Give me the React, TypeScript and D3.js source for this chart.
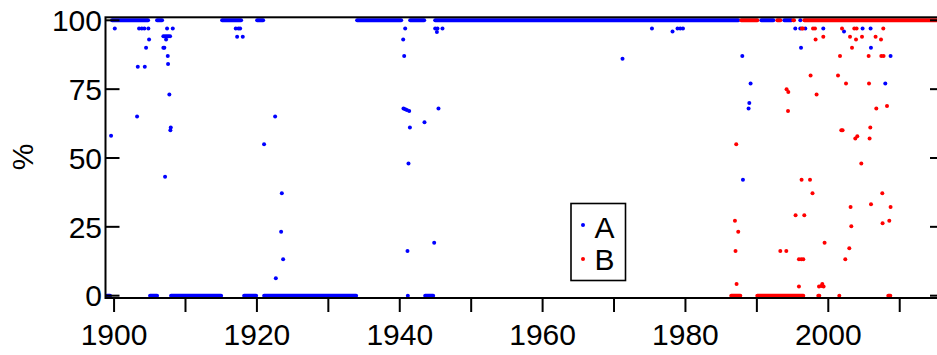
import React, { useRef, useEffect } from 'react';
import * as d3 from 'd3';

// tick values
const yTicks = [0, 25, 50, 75, 100];
const xTicks = [1900, 1910, 1920, 1930, 1940, 1950, 1960, 1970, 1980, 1990, 2000, 2010];
const xLabels = [1900, 1920, 1940, 1960, 1980, 2000];

// dense runs of points sitting on 100 or 0 (year from, year to)
const aRuns100 = [[1899.72, 1904.76], [1906.02, 1906.72], [1915.13, 1917.79], [1920.03, 1920.87],
  [1934.03, 1940.2], [1941.46, 1943.42], [1944.96, 1987.39], [1990.62, 1992.3], [1993.84, 1994.82], [1996.08, 1996.08]];
const aRuns0 = [[1899.02, 1899.44], [1905.04, 1906.02], [1907.98, 1914.99], [1918.21, 1919.89],
  [1921.01, 1933.89], [1941.13, 1941.13], [1943.56, 1944.68]];
const bRuns100 = [[1987.82, 1990.06], [1992.86, 1993.28], [1995.1, 1995.2], [1996.64, 2016.2]];
const bRuns0 = [[1986.41, 1987.68], [1990.06, 1996.5], [1998.6, 1998.74], [2001.54, 2001.54], [2008.4, 2008.68]];

// scattered points [year, %]
const seriesA = [
  [1900.1, 97], [1899.58, 58.1], [1903.5, 97], [1903.88, 97], [1904.24, 97], [1904.8, 97],
  [1904.9, 93], [1904.48, 90], [1903.32, 83.1], [1904.3, 83.1], [1903.22, 65.1],
  [1907.42, 97], [1908.22, 97], [1906.9, 94.2], [1907.14, 94.2], [1907.38, 94.2], [1907.6, 94.2],
  [1907.84, 94.2], [1907.28, 93], [1906.9, 90], [1907.04, 90], [1907.52, 87], [1907.56, 84.1],
  [1907.74, 73.1], [1907.94, 61.1], [1907.88, 60.1], [1907.14, 43.2],
  [1917.04, 97], [1917.41, 97], [1917.65, 97], [1917.23, 94], [1918.02, 94],
  [1922.55, 65.1], [1921.0, 55], [1923.49, 37.2], [1923.39, 23.2], [1923.67, 13.2], [1922.65, 6.3],
  [1940.76, 97], [1940.48, 93], [1940.62, 87], [1940.52, 68], [1940.76, 67.7], [1941.0, 67.4],
  [1941.32, 67.1], [1941.42, 61.1], [1941.22, 48], [1941.08, 16.2],
  [1944.96, 97], [1945.28, 97], [1945.98, 97], [1945.2, 95.8], [1945.42, 68], [1943.46, 63], [1944.82, 19.2],
  [1971.19, 86], [1975.31, 97], [1978.19, 95.9], [1978.89, 97], [1979.27, 97], [1979.65, 97],
  [1995.38, 97], [1996.08, 97], [1996.78, 97], [1999.3, 97], [1996.18, 90],
  [1987.96, 87], [1989.12, 77.1], [1988.94, 70], [1988.84, 68], [1988.05, 42.1],
  [2002.2, 95.9], [2004.8, 97], [2005.92, 97], [2005.97, 90], [2008.72, 87], [2007.98, 77.1],
];

const seriesB = [
  [1996.3, 97], [1996.44, 97], [1997.86, 97], [1998.14, 97], [1998.22, 93], [1999.3, 94],
  [1997.52, 80], [1994.16, 75], [1994.4, 74], [1998.36, 73.1], [1994.36, 67.1], [1987.11, 55],
  [1996.26, 42.1], [1997.44, 42.1], [1997.79, 37.2], [1995.42, 29.2], [1996.64, 29.2],
  [1986.93, 27.2], [1987.39, 23.2], [1999.48, 19.2], [1987.01, 16.2], [1993.28, 16.2], [1994.12, 16.2],
  [1995.89, 13.2], [1996.22, 13.2], [1996.5, 13.2], [1987.16, 4.2], [1995.89, 3.3],
  [1998.7, 3.3], [1999.16, 4.2], [1999.34, 3.3], [1999.02, 3.5],
  [2001.92, 97], [2003.64, 97], [2003.96, 97], [2007.7, 97],
  [2003.04, 94], [2004.72, 94], [2006.62, 94], [2003.88, 93], [2007.38, 93], [2003.32, 90],
  [2001.64, 87], [2005.65, 87], [2007.42, 87], [2007.74, 87], [2001.36, 80], [2002.48, 77.1], [2005.7, 77.1],
  [2006.72, 68], [2008.22, 68.9], [2001.82, 60.1], [2002.0, 60.1], [2005.88, 61.1],
  [2003.78, 57.1], [2004.06, 57.9], [2005.78, 57.1], [2004.62, 48], [2007.56, 37.2], [2005.98, 33.2],
  [2003.12, 32.2], [2008.72, 32.2], [2007.6, 26.3], [2008.54, 27.2], [2003.22, 25.2],
  [2002.94, 17.2], [2002.38, 13.2],
];

const colorA = '#0000ff';
const colorB = '#ff0000';
const font = '"Liberation Sans", Arial, Helvetica, sans-serif';

export default function App() {
  const svgRef = useRef(null);

  useEffect(() => {
    const w = 937;
    const h = 355;
    const svg = d3.select(svgRef.current).attr('width', w).attr('height', h);
    svg.selectAll('*').remove();

    const x = d3.scaleLinear().domain([1898.8, 2016.2]).range([105.5, 944]);
    const y = d3.scaleLinear().domain([-0.85, 101.1]).range([298, 17.3]);
    const [x0, x1] = x.range();
    const [yb, yt] = y.range();

    // runs of points drawn as thick round-capped strokes
    const drawRuns = (runs, val, color) => {
      svg.append('g')
        .selectAll('line')
        .data(runs)
        .join('line')
        .attr('x1', d => x(d[0]))
        .attr('x2', d => x(d[1]))
        .attr('y1', y(val))
        .attr('y2', y(val))
        .attr('stroke', color)
        .attr('stroke-width', 4)
        .attr('stroke-linecap', 'round');
    };
    const drawDots = (data, color) => {
      svg.append('g')
        .selectAll('circle')
        .data(data)
        .join('circle')
        .attr('cx', d => x(d[0]))
        .attr('cy', d => y(d[1]))
        .attr('r', 2)
        .attr('fill', color);
    };

    drawRuns(aRuns100, 100, colorA);
    drawRuns(aRuns0, 0, colorA);
    drawDots(seriesA, colorA);
    drawRuns(bRuns100, 100, colorB);
    drawRuns(bRuns0, 0, colorB);
    drawDots(seriesB, colorB);

    // frame
    svg.append('rect')
      .attr('x', x0).attr('y', yt)
      .attr('width', x1 - x0).attr('height', yb - yt)
      .attr('fill', 'none').attr('stroke', 'black').attr('stroke-width', 2);

    // y ticks (inward, both sides) and labels
    const yt_g = svg.append('g');
    yt_g.selectAll('line.l').data(yTicks).join('line')
      .attr('class', 'l')
      .attr('x1', x0).attr('x2', x0 + 14)
      .attr('y1', d => y(d)).attr('y2', d => y(d))
      .attr('stroke', 'black').attr('stroke-width', 2);
    yt_g.selectAll('line.r').data(yTicks).join('line')
      .attr('class', 'r')
      .attr('x1', x1).attr('x2', x1 - 14)
      .attr('y1', d => y(d)).attr('y2', d => y(d))
      .attr('stroke', 'black').attr('stroke-width', 2);
    yt_g.selectAll('text').data(yTicks).join('text')
      .attr('x', x0 - 3.5)
      .attr('y', d => y(d))
      .attr('dy', '0.36em')
      .attr('text-anchor', 'end')
      .attr('font-family', font)
      .attr('font-size', 30)
      .text(d => d);

    // x ticks (outward) and labels
    const xt_g = svg.append('g');
    xt_g.selectAll('line').data(xTicks).join('line')
      .attr('x1', d => x(d)).attr('x2', d => x(d))
      .attr('y1', yb).attr('y2', yb + 14)
      .attr('stroke', 'black').attr('stroke-width', 2);
    xt_g.selectAll('text').data(xLabels).join('text')
      .attr('x', d => x(d))
      .attr('y', 344.5)
      .attr('text-anchor', 'middle')
      .attr('font-family', font)
      .attr('font-size', 30)
      .text(d => d);

    // axis title
    svg.append('text')
      .attr('transform', 'translate(33,157) rotate(-90)')
      .attr('text-anchor', 'middle')
      .attr('font-family', font)
      .attr('font-size', 30)
      .text('%');

    // legend
    const legend = svg.append('g').attr('transform', 'translate(571,203.5)');
    legend.append('rect')
      .attr('width', 54.5).attr('height', 77)
      .attr('fill', 'white').attr('stroke', 'black').attr('stroke-width', 1.6);
    [['A', colorA], ['B', colorB]].forEach(([name, color], i) => {
      legend.append('circle')
        .attr('cx', 12).attr('cy', 21.5 + i * 34)
        .attr('r', 2).attr('fill', color);
      legend.append('text')
        .attr('x', 23.5).attr('y', 34.5 + i * 32)
        .attr('font-family', font)
        .attr('font-size', 30)
        .text(name);
    });
  }, []);

  return (
    <div className="App">
      <svg ref={svgRef} style={{ position: 'absolute', left: 0, top: 0 }}></svg>
    </div>
  );
}
